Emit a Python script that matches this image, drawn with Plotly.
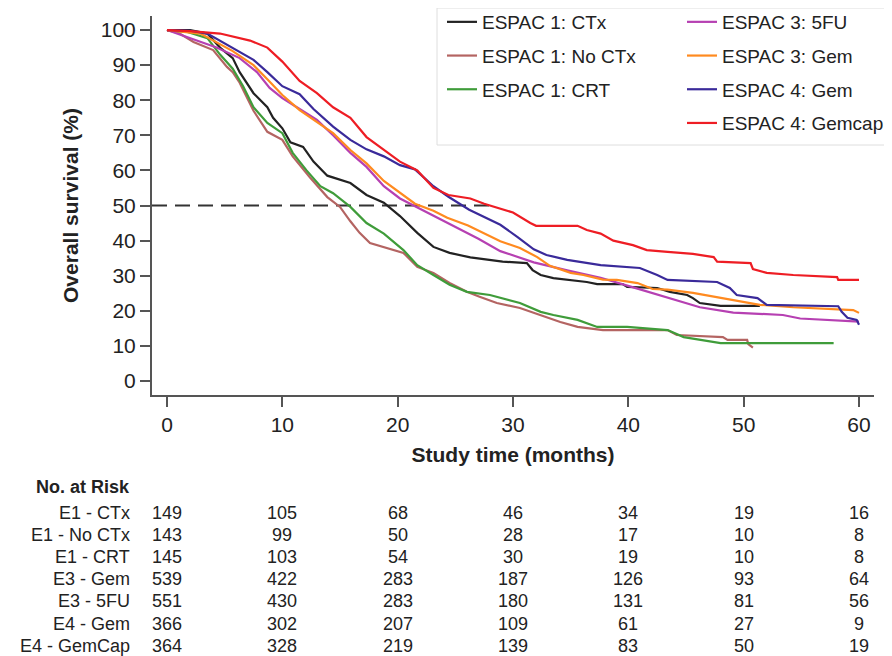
import plotly.graph_objects as go

# ---------------- data ----------------
e1_ctx_t = [0, 2, 3.5, 4.6, 5.7, 6.3, 7.5, 8.7, 9.2, 10, 10.7, 11.8, 12.7, 13.9, 15.9, 17.3, 18.8, 20.2,
            21.7, 23.1, 24.5, 26.3, 29.1, 31.2, 31.7, 32.4, 33.5, 36.4, 37.3, 39.5, 39.9, 42.5, 43.6,
            45.1, 45.6, 46.2, 48, 51.4]
e1_ctx_s = [100, 100, 99, 95, 92, 88, 82, 78, 75, 72, 68, 66.7, 62.5, 58.5, 56.4, 53, 50.8, 47,
            42.2, 38.2, 36.5, 35.2, 34, 33.6, 31.6, 30.2, 29.3, 28.2, 27.6, 27.6, 26.8, 26.5, 25.4,
            24.5, 23.6, 22.2, 21.4, 21.4]

e1_noctx_t = [0, 1.1, 2.3, 4, 5.2, 5.7, 6.3, 7.5, 8.7, 10, 10.9, 11.5, 12.4, 13.9, 15, 15.9, 16.7,
              17.6, 19.1, 20.5, 21.7, 23.1, 24.5, 26, 27.1, 28.6, 30.6, 32.4, 34.1, 35.6, 37.8, 43.4,
              44.2, 48.2, 48.6, 50.3, 50.4, 50.8]
e1_noctx_s = [100, 99, 96.6, 94.3, 89.5, 88, 85, 77, 71, 68.7, 64, 61.5, 58, 52.4, 49.6, 45.5, 42.2,
              39.3, 37.9, 36.5, 32.5, 30.8, 27.9, 25.4, 24, 22.2, 20.8, 18.8, 16.8, 15.4, 14.5, 14.5,
              13.1, 12.5, 11.7, 11.7, 10.5, 9.5]

e1_crt_t = [0, 1.7, 3.5, 4.6, 5.7, 6.6, 7.5, 8.7, 10, 10.9, 12.1, 13.3, 14.4, 15.9, 17.3, 18.8, 20.5,
            21.7, 23.1, 24.5, 26, 28, 30.6, 32.4, 33.5, 35.6, 37.3, 39.9, 43.4, 44.8, 48, 57.8]
e1_crt_s = [100, 99.5, 97.7, 93, 89, 84, 78, 73.5, 70.6, 65, 60, 55.5, 53.5, 49.6, 45, 42, 37.3,
            33, 30.2, 27.4, 25.4, 24.5, 22.2, 19.7, 18.8, 17.4, 15.4, 15.4, 14.5, 12.5, 10.8, 10.8]

e3_5fu_t = [0, 1.7, 4.3, 6.3, 7.8, 8.9, 10, 11.5, 13, 14.4, 15.9, 17.3, 18.8, 20.2, 21.5, 23.1, 26,
            27, 28.9, 31.8, 34.7, 37.6, 40.5, 43.4, 46.2, 49.1, 53.4, 54.9, 57.8, 60]
e3_5fu_s = [100, 98, 95, 92, 88, 83.5, 80.6, 77.5, 74.4, 70, 65, 61, 55.5, 52, 49.8, 47, 42,
            40.5, 37, 33.8, 31.5, 29.4, 26.6, 23.8, 21, 19.5, 18.8, 17.8, 17.4, 16.9]

e3_gem_t = [0, 2.9, 5.7, 7.5, 8.7, 10, 11.5, 13, 14.4, 15.9, 17.3, 18.8, 20.2, 21.5, 23.1, 24.3, 26.1,
            28.9, 30.6, 32.1, 33.2, 35, 36.1, 37.8, 39, 40.8, 42.1, 43.4, 45.6, 48.6, 51.4, 54.3,
            56.6, 58.4, 59.5, 60]
e3_gem_s = [100, 99, 94, 90, 86, 81.5, 77.2, 73.8, 70.6, 65.8, 62, 57, 53.5, 50.5, 48.5, 46.5, 44.3,
            39.8, 37.9, 35.3, 32.8, 30.8, 30.2, 28.9, 28.8, 27.9, 26.2, 26, 25.1, 23.3, 21.7, 21,
            20.6, 20.5, 20.2, 19.4]

e4_gem_t = [0, 2, 3.5, 5.7, 7.5, 8.7, 10, 11.5, 12.7, 14.4, 15.9, 17.3, 18.8, 20.2, 21.5, 23.1, 24.4,
            26.2, 28.9, 30.4, 31.8, 32.9, 34.7, 37.6, 41, 42.5, 43.4, 47.7, 48.8, 49.4, 51.2, 52,
            58.2, 58.5, 59, 59.8, 60]
e4_gem_s = [100, 99.8, 99, 95, 91.5, 88, 84, 81.7, 77.5, 72.5, 68.7, 66, 64, 61.5, 60.3, 55.5, 52.5,
            48.8, 44.5, 41, 37.5, 35.9, 34.5, 33, 32.2, 30.2, 28.8, 28.2, 26.5, 24.5, 23.6, 21.7,
            21.3, 19.7, 18, 17.4, 16]

e4_gemcap_t = [0, 2, 4.6, 7.2, 8.7, 10, 11.5, 13, 14.4, 15.9, 17.3, 18.8, 20.2, 21.7, 23.1, 24.4,
               26.3, 27.5, 28.9, 30, 31.5, 32, 35.6, 36.4, 37.6, 38.7, 40.4, 41.6, 43.4, 45.6, 47.4,
               47.7, 50.6, 50.8, 52, 54.3, 58.1, 58.2, 60]
e4_gemcap_s = [100, 99.7, 99, 97, 95, 91, 85.5, 82, 78, 75, 69.5, 66, 62.5, 60, 55, 53,
               52, 50.5, 49.2, 48, 45, 44.2, 44.2, 43, 42, 40, 38.7, 37.3, 36.8, 36.2, 35.3,
               34, 33.6, 31.9, 30.8, 30.2, 29.6, 28.8, 28.8]

series_names = ["ESPAC 1: CTx", "ESPAC 1: No CTx", "ESPAC 1: CRT",
                "ESPAC 3: 5FU", "ESPAC 3: Gem", "ESPAC 4: Gem", "ESPAC 4: Gemcap"]
series_t = [e1_ctx_t, e1_noctx_t, e1_crt_t, e3_5fu_t, e3_gem_t, e4_gem_t, e4_gemcap_t]
series_s = [e1_ctx_s, e1_noctx_s, e1_crt_s, e3_5fu_s, e3_gem_s, e4_gem_s, e4_gemcap_s]
series_colors = ["#222222", "#b46462", "#3f9c3a", "#b640b2", "#ff8a1f", "#3a2a9a", "#ee1d24"]

median_level = 50
median_x = [-1.3, 28.6]

risk_times = [0, 10, 20, 30, 40, 50, 60]
risk_labels = ["E1 - CTx", "E1 - No CTx", "E1 - CRT", "E3 - Gem", "E3 - 5FU", "E4 - Gem", "E4 - GemCap"]
risk_e1_ctx = [149, 105, 68, 46, 34, 19, 16]
risk_e1_noctx = [143, 99, 50, 28, 17, 10, 8]
risk_e1_crt = [145, 103, 54, 30, 19, 10, 8]
risk_e3_gem = [539, 422, 283, 187, 126, 93, 64]
risk_e3_5fu = [551, 430, 283, 180, 131, 81, 56]
risk_e4_gem = [366, 302, 207, 109, 61, 27, 9]
risk_e4_gemcap = [364, 328, 219, 139, 83, 50, 19]
risk_rows = [risk_e1_ctx, risk_e1_noctx, risk_e1_crt, risk_e3_gem, risk_e3_5fu, risk_e4_gem, risk_e4_gemcap]

# ---------------- figure ----------------
OFF = 8                      # page body margin in the browser
W, H = 892 - OFF, 656 - OFF
ML, MT = 152 - OFF, 16 - OFF
MR = W - (874 - OFF)
MB = H - (395 - OFF)
plot_h = H - MT - MB
plot_w = W - ML - MR


def py(ypx):
    """screen pixel y -> paper y"""
    return (H - MB - (ypx - OFF)) / plot_h


def px(xpx):
    """screen pixel x -> paper x"""
    return ((xpx - OFF) - ML) / plot_w


FONT = "Liberation Sans, Arial, sans-serif"
fig = go.Figure()

fig.add_trace(go.Scatter(x=median_x, y=[median_level, median_level], mode="lines",
                         line=dict(color="#333333", width=2, dash="15px,8px"),
                         showlegend=False, hoverinfo="skip"))

for i, (name, t, s, c) in enumerate(zip(series_names, series_t, series_s, series_colors)):
    fig.add_trace(go.Scatter(
        x=t, y=s, mode="lines", name=name,
        line=dict(color=c, width=2.2),
        legend="legend" if i < 3 else "legend2",
        legendgroup=name,
    ))

annotations = []
annotations.append(dict(x=px(132), y=py(487), xref="paper", yref="paper", text="<b>No. at Risk</b>",
                        showarrow=False, xanchor="right", yanchor="middle",
                        font=dict(family=FONT, size=18, color="#222222")))
for r, (lab, vals) in enumerate(zip(risk_labels, risk_rows)):
    ypx = 513 + 22.1 * r
    annotations.append(dict(x=px(132), y=py(ypx), xref="paper", yref="paper", text=lab,
                            showarrow=False, xanchor="right", yanchor="middle",
                            font=dict(family=FONT, size=18, color="#222222")))
    for tt, v in zip(risk_times, vals):
        annotations.append(dict(x=tt, y=py(ypx), xref="x", yref="paper", text=str(v),
                                showarrow=False, xanchor="center", yanchor="middle",
                                font=dict(family=FONT, size=18, color="#222222")))

legend_common = dict(bgcolor="rgba(0,0,0,0)", borderwidth=0, tracegroupgap=6,
                     font=dict(family=FONT, size=19, color="#222222"),
                     xanchor="left", yanchor="top", itemwidth=30, orientation="v")

fig.update_layout(
    width=W, height=H,
    margin=dict(l=ML, r=MR, t=MT, b=MB, autoexpand=False),
    paper_bgcolor="white", plot_bgcolor="white",
    font=dict(family=FONT, size=18, color="#222222"),
    xaxis=dict(range=[-1.3, 61.3], tickvals=risk_times, ticks="outside", ticklen=10, tickwidth=2,
               tickcolor="#555555", showline=True, linecolor="#555555", linewidth=2,
               showgrid=False, zeroline=False, automargin=False,
               tickfont=dict(family=FONT, size=21, color="#222222"),
               title=dict(text="<b>Study time (months)</b>", standoff=12,
                          font=dict(family=FONT, size=21, color="#222222"))),
    yaxis=dict(range=[-4, 104], tickvals=list(range(0, 101, 10)), ticks="outside", ticklen=10,
               tickwidth=2, tickcolor="#555555", showline=True, linecolor="#555555", linewidth=2,
               showgrid=False, zeroline=False, automargin=False,
               tickfont=dict(family=FONT, size=21, color="#222222"),
               title=dict(text="<b>Overall survival (%)</b>", standoff=16,
                          font=dict(family=FONT, size=21, color="#222222"))),
    legend=dict(x=px(442), y=py(3), **legend_common),
    legend2=dict(x=px(682), y=py(3), **legend_common),
    annotations=annotations,
    shapes=[dict(type="rect", xref="paper", yref="paper", x0=px(437), x1=px(905), y0=py(145), y1=py(8),
                 line=dict(color="#dedede", width=1), fillcolor="rgba(0,0,0,0)", layer="below")],
    showlegend=True,
)

fig.write_html("out.html")
